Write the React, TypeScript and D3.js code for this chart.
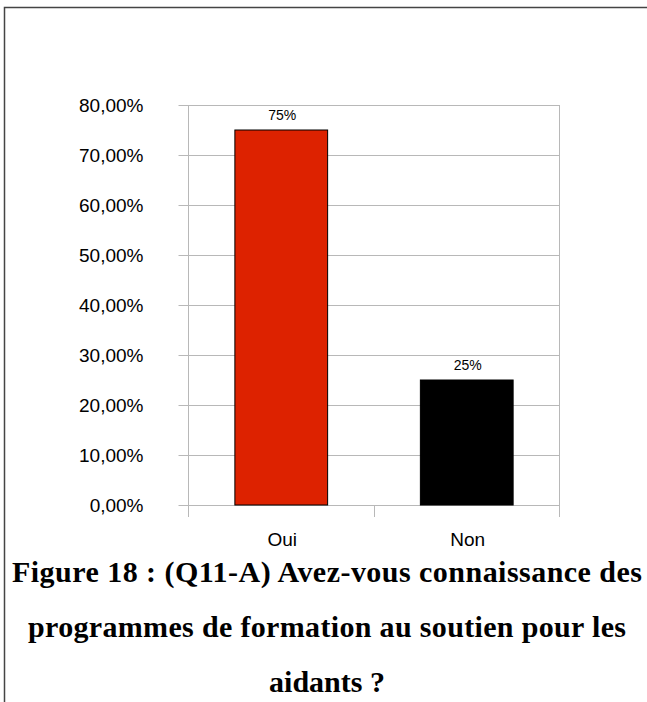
import React from "react";
import * as d3 from "d3";

const categories = ["Oui", "Non"];
const values = [0.75, 0.25];
const valueLabels = ["75%", "25%"];
const barColors = ["#dd2200", "#000000"];
const yTicks = [0, 0.1, 0.2, 0.3, 0.4, 0.5, 0.6, 0.7, 0.8];
const captionLines = [
  "Figure 18 : (Q11-A) Avez-vous connaissance des",
  "programmes de formation au soutien pour les",
  "aidants ?",
];

export default function App() {
  const W = 647;
  const H = 702;
  const left = 188.5;
  const right = 559.5;
  const top = 105;
  const bottom = 505;

  const x = d3.scaleBand<string>().domain(categories).range([left, right]).paddingInner(0).paddingOuter(0);
  const y = d3.scaleLinear().domain([0, 0.8]).range([bottom, top]);
  const barW = x.bandwidth() * 0.5;
  const fmt = (v: number) => (v * 100).toFixed(2).replace(".", ",") + "%";

  const gridColor = "#b8b8b8";
  const sans = "'Liberation Sans', Arial, sans-serif";
  const captionBaselines = [582, 637, 692];
  const captionLengths = [630, 598, 0];

  return (
    <svg width={W} height={H} style={{ position: "absolute", left: 0, top: 0, background: "#fff" }}>
      <rect x={0} y={0} width={W} height={H} fill="#fff" />
      <path d={`M4.5,${H} L4.5,7.5 L${W},7.5`} fill="none" stroke="#444" strokeWidth={1.5} />

      {yTicks.map((t) => (
        <g key={t}>
          <line x1={left - 10} x2={right} y1={Math.round(y(t)) + 0.5} y2={Math.round(y(t)) + 0.5} stroke={gridColor} strokeWidth={1} />
          <text x={left - 45} y={y(t) + 7} textAnchor="end" fontFamily={sans} fontSize={19} fill="#000">
            {fmt(t)}
          </text>
        </g>
      ))}
      <line x1={left} x2={left} y1={top} y2={bottom + 12} stroke={gridColor} strokeWidth={1} />
      <line x1={right} x2={right} y1={top} y2={bottom + 12} stroke={gridColor} strokeWidth={1} />
      {categories.map((c, i) =>
        i > 0 ? (
          <line key={c} x1={Math.round(x(c)!) + 0.5} x2={Math.round(x(c)!) + 0.5} y1={bottom} y2={bottom + 12} stroke={gridColor} strokeWidth={1} />
        ) : null
      )}

      {categories.map((c, i) => {
        const cx = x(c)! + x.bandwidth() / 2;
        return (
          <g key={c}>
            <rect
              x={cx - barW / 2}
              y={y(values[i])}
              width={barW}
              height={bottom - y(values[i])}
              fill={barColors[i]}
              stroke="#000"
              strokeWidth={1}
            />
            <text x={cx + 1} y={y(values[i]) - 10} textAnchor="middle" fontFamily={sans} fontSize={14} fill="#000">
              {valueLabels[i]}
            </text>
            <text x={cx + 1} y={bottom + 41} textAnchor="middle" fontFamily={sans} fontSize={19} fill="#000">
              {c}
            </text>
          </g>
        );
      })}

      {captionLines.map((line, i) => (
        <text
          key={i}
          x={327}
          y={captionBaselines[i]}
          textAnchor="middle"
          fontFamily="'Liberation Serif', 'Times New Roman', serif"
          fontWeight="bold"
          fontSize={30}
          fill="#000"
          {...(captionLengths[i] ? { textLength: captionLengths[i], lengthAdjust: "spacing" } : {})}
        >
          {line}
        </text>
      ))}
    </svg>
  );
}
